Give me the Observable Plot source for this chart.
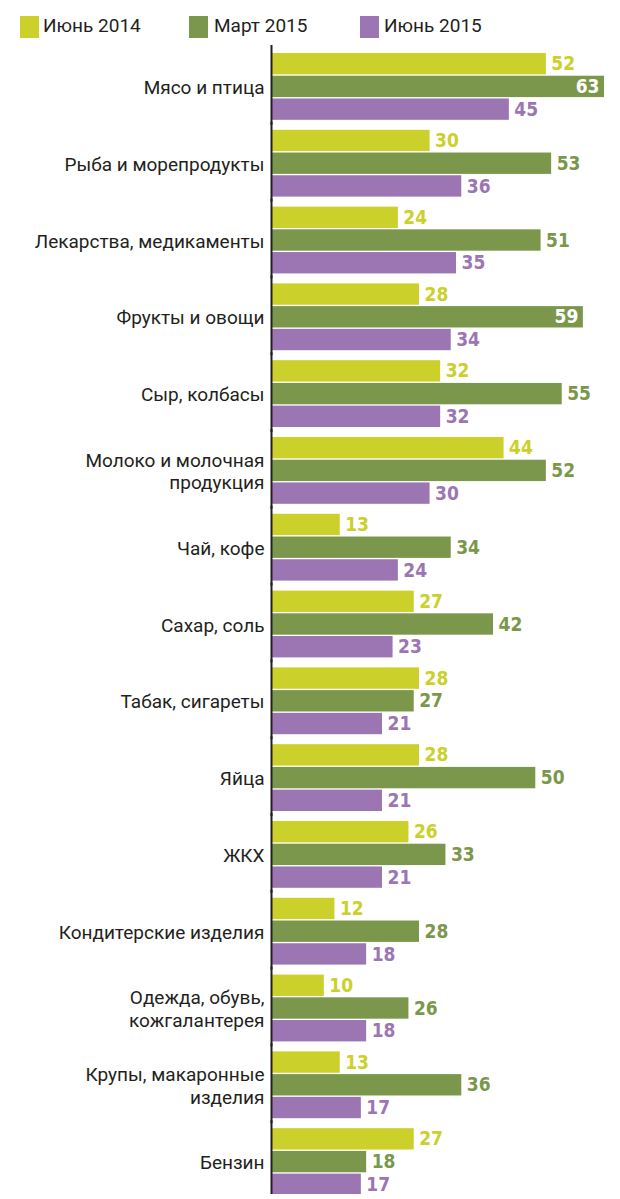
<!DOCTYPE html>
<html>
<head>
<meta charset="utf-8">
<script src="https://cdn.jsdelivr.net/npm/d3@7"></script>
<script src="https://cdn.jsdelivr.net/npm/@observablehq/plot@0.6"></script>
<style>
  html, body { margin: 0; padding: 0; background: #fff; }
  #legend { position: relative; width: 620px; height: 43px; font-family: Roboto, sans-serif; font-size: 19px; color: #231f20; }
  .sw { position: absolute; top: 16px; width: 19px; height: 22px; }
  .lt { position: absolute; top: 13px; line-height: 26px; white-space: nowrap; }
  #chart svg { display: block; }
</style>
</head>
<body>
<div id="legend"></div>
<div id="chart"></div>
<script>
const categories = ["Мясо и птица", "Рыба и морепродукты", "Лекарства, медикаменты", "Фрукты и овощи", "Сыр, колбасы", "Молоко и молочная продукция", "Чай, кофе", "Сахар, соль", "Табак, сигареты", "Яйца", "ЖКХ", "Кондитерские изделия", "Одежда, обувь, кожгалантерея", "Крупы, макаронные изделия", "Бензин"];
const categoryLabels = ["Мясо и птица", "Рыба и морепродукты", "Лекарства, медикаменты", "Фрукты и овощи", "Сыр, колбасы", "Молоко и молочная\nпродукция", "Чай, кофе", "Сахар, соль", "Табак, сигареты", "Яйца", "ЖКХ", "Кондитерские изделия", "Одежда, обувь,\nкожгалантерея", "Крупы, макаронные\nизделия", "Бензин"];
const series = ["Июнь 2014", "Март 2015", "Июнь 2015"];
const colors = ["#cbd02a", "#7b974b", "#9b76b3"];
const june2014 = [52, 30, 24, 28, 32, 44, 13, 27, 28, 28, 26, 12, 10, 13, 27];
const march2015 = [63, 53, 51, 59, 55, 52, 34, 42, 27, 50, 33, 28, 26, 36, 18];
const june2015 = [45, 36, 35, 34, 32, 30, 24, 23, 21, 21, 21, 18, 18, 17, 17];
const insideThreshold = 57;

const seriesValues = [june2014, march2015, june2015];
const data = [];
categories.forEach((c, i) => {
  series.forEach((s, j) => data.push({category: c, series: s, value: seriesValues[j][i]}));
});
const labelOf = new Map(categories.map((c, i) => [c, categoryLabels[i]]));

const legend = document.getElementById("legend");
const swX = [20, 189, 360], txX = [43, 214, 384];
series.forEach((s, j) => {
  const sw = document.createElement("div");
  sw.className = "sw"; sw.style.left = swX[j] + "px"; sw.style.background = colors[j];
  const t = document.createElement("div");
  t.className = "lt"; t.style.left = txX[j] + "px"; t.textContent = s;
  legend.appendChild(sw); legend.appendChild(t);
});

const valueFont = "'DejaVu Sans Condensed', 'DejaVu Sans', sans-serif";
const chart = Plot.plot({
  width: 620,
  height: 1151,
  marginLeft: 271,
  marginRight: 16,
  marginTop: 0,
  marginBottom: 0,
  facet: {marginTop: 5, marginBottom: 4},
  style: {fontFamily: "Roboto, sans-serif", fontSize: "19px", color: "#231f20", background: "#fff"},
  x: {domain: [0, 63], axis: null},
  y: {domain: series, axis: null, paddingInner: 0.06, paddingOuter: 0, round: false},
  fy: {domain: categories, paddingInner: 0.13, paddingOuter: 0, axis: null, round: false},
  color: {domain: series, range: colors},
  marks: [
    Plot.barX(data, {x: "value", y: "series", fy: "category", fill: "series"}),
    Plot.text(data.filter(d => d.value < insideThreshold), {
      x: "value", y: "series", fy: "category", text: d => String(d.value), fill: "series",
      textAnchor: "start", dx: 5, fontWeight: "bold", fontFamily: valueFont, fontSize: 19
    }),
    Plot.text(data.filter(d => d.value >= insideThreshold), {
      x: "value", y: "series", fy: "category", text: d => String(d.value), fill: "white",
      textAnchor: "end", dx: -5, fontWeight: "bold", fontFamily: valueFont, fontSize: 19
    }),
    Plot.ruleX([0], {stroke: "#231f20", strokeWidth: 2, insetTop: -8, insetBottom: -5}),
    Plot.axisFy({anchor: "left", tickSize: 0, tickPadding: 7, label: null, tickFormat: d => labelOf.get(d), fontSize: 19, lineHeight: 1.18, fill: "#231f20"})
  ]
});
document.getElementById("chart").appendChild(chart);
</script>
</body>
</html>
